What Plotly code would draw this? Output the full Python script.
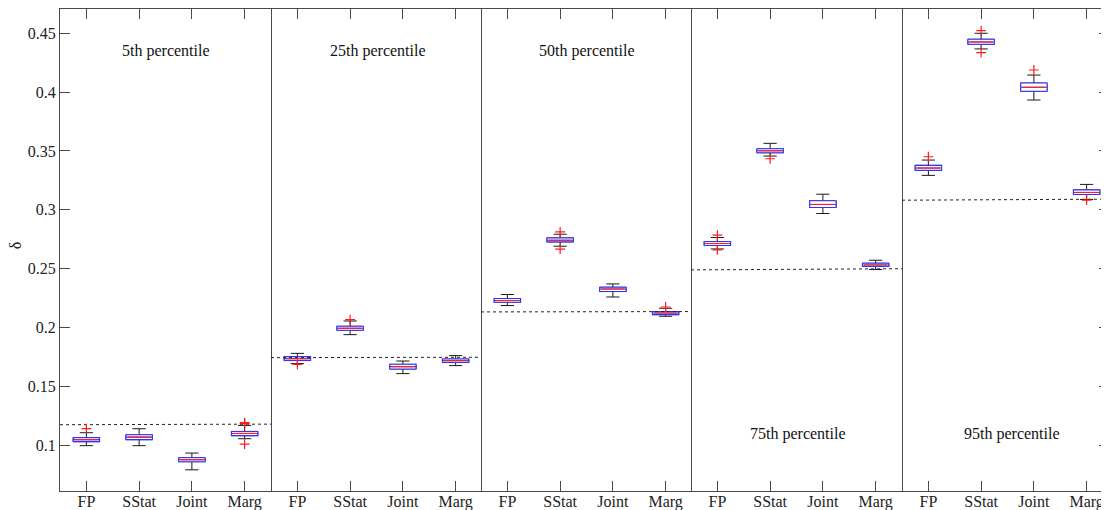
import plotly.graph_objects as go

categories = ["FP", "SStat", "Joint", "Marg"]
cat_pos = [1, 2, 3, 4]
panel_titles = ["5th percentile", "25th percentile", "50th percentile", "75th percentile", "95th percentile"]

# box statistics per panel (FP, SStat, Joint, Marg)
q1_vals = [
    [0.1031, 0.1048, 0.0861, 0.1082],
    [0.1720, 0.1977, 0.1648, 0.1704],
    [0.2215, 0.2728, 0.2306, 0.2110],
    [0.2697, 0.3485, 0.3020, 0.2519],
    [0.3335, 0.4406, 0.4007, 0.3131],
]
median_vals = [
    [0.1048, 0.1070, 0.0878, 0.1101],
    [0.1736, 0.1994, 0.1668, 0.1719],
    [0.2230, 0.2742, 0.2328, 0.2124],
    [0.2714, 0.3502, 0.3046, 0.2532],
    [0.3355, 0.4426, 0.4041, 0.3148],
]
q3_vals = [
    [0.1065, 0.1090, 0.0895, 0.1118],
    [0.1753, 0.2011, 0.1688, 0.1733],
    [0.2247, 0.2762, 0.2343, 0.2136],
    [0.2731, 0.3519, 0.3077, 0.2547],
    [0.3378, 0.4449, 0.4077, 0.3170],
]
lower_vals = [
    [0.0997, 0.0997, 0.0792, 0.1056],
    [0.1694, 0.1940, 0.1609, 0.1677],
    [0.2187, 0.2691, 0.2260, 0.2096],
    [0.2668, 0.3457, 0.2969, 0.2493],
    [0.3293, 0.4367, 0.3933, 0.3088],
]
upper_vals = [
    [0.1107, 0.1141, 0.0934, 0.1169],
    [0.1781, 0.2056, 0.1716, 0.1762],
    [0.2281, 0.2793, 0.2371, 0.2164],
    [0.2765, 0.3565, 0.3133, 0.2572],
    [0.3423, 0.4500, 0.4145, 0.3216],
]
# outliers: category position and value, per panel
outlier_cat = [
    [1, 4, 4, 4],
    [1, 2],
    [2, 2, 4],
    [1, 1, 2],
    [1, 2, 2, 3, 4],
]
outlier_val = [
    [0.1141, 0.1192, 0.1185, 0.1010],
    [0.1688, 0.2068],
    [0.2813, 0.2666, 0.2175],
    [0.2785, 0.2660, 0.3434],
    [0.3451, 0.4522, 0.4335, 0.4188, 0.3082],
]
# dotted reference line per panel (left end, right end)
ref_left = [0.1175, 0.1745, 0.2133, 0.2490, 0.3082]
ref_right = [0.1180, 0.1748, 0.2136, 0.2500, 0.3091]

y_ticks = [0.1, 0.15, 0.2, 0.25, 0.3, 0.35, 0.4, 0.45]
y_ticktext = ["0.1", "0.15", "0.2", "0.25", "0.3", "0.35", "0.4", "0.45"]

# layout-only placement of the panel captions (data coords)
title_x = [2.5, 2.53, 2.5, 2.53, 2.58]
title_y = [0.435, 0.435, 0.435, 0.110, 0.110]

# page body has an 8px margin: size the figure so the plot lands where the reference has it
OFF = 8
W, H = 1101, 502
L_M, R_M, T_M, B_M = 52, 0, 1, 19
panel_px = [60, 271, 481, 691, 902, 1109]  # window pixels
unit_px = 211 / 4.0
plot_w = W - L_M - R_M
domains = [((panel_px[i] - OFF - L_M) / plot_w, (panel_px[i + 1] - OFF - L_M) / plot_w) for i in range(5)]

BOX_W = 0.5
FONT = "Liberation Serif"
AX_COL = "#4a4a4a"
TXT_COL = "#222222"

fig = go.Figure()
for p in range(5):
    xa = "x" if p == 0 else f"x{p+1}"
    ya = "y" if p == 0 else f"y{p+1}"
    # reference dotted line
    fig.add_trace(go.Scatter(
        x=[0.5, 4.5], y=[ref_left[p], ref_right[p]], mode="lines",
        line=dict(color="#222222", width=1, dash="dot"),
        xaxis=xa, yaxis=ya, showlegend=False, hoverinfo="skip"))
    # whiskers + caps (black)
    fig.add_trace(go.Box(
        x=cat_pos, q1=q1_vals[p], median=median_vals[p], q3=q3_vals[p],
        lowerfence=lower_vals[p], upperfence=upper_vals[p],
        width=BOX_W, whiskerwidth=0.5, boxpoints=False,
        line=dict(color="#1a1a1a", width=1), fillcolor="white",
        xaxis=xa, yaxis=ya, showlegend=False, hoverinfo="skip"))
    # blue box outline
    fig.add_trace(go.Box(
        x=cat_pos, q1=q1_vals[p], median=median_vals[p], q3=q3_vals[p],
        lowerfence=q1_vals[p], upperfence=q3_vals[p],
        width=BOX_W, whiskerwidth=0, boxpoints=False,
        line=dict(color="rgb(50,50,255)", width=1.1), fillcolor="white",
        xaxis=xa, yaxis=ya, showlegend=False, hoverinfo="skip"))
    # red medians
    mx, my = [], []
    for c, m in zip(cat_pos, median_vals[p]):
        mx += [c - BOX_W / 2 + 0.03, c + BOX_W / 2 - 0.03, None]
        my += [m, m, None]
    fig.add_trace(go.Scatter(
        x=mx, y=my, mode="lines", line=dict(color="#ff2020", width=1.2),
        xaxis=xa, yaxis=ya, showlegend=False, hoverinfo="skip"))
    # outliers
    fig.add_trace(go.Scatter(
        x=outlier_cat[p], y=outlier_val[p], mode="markers",
        marker=dict(symbol="cross-thin", size=7, line=dict(color="#ff1a1a", width=1.2)),
        xaxis=xa, yaxis=ya, showlegend=False, hoverinfo="skip"))
    # panel caption
    fig.add_annotation(
        x=title_x[p], y=title_y[p], xref=xa, yref=ya, text=panel_titles[p], showarrow=False,
        font=dict(family=FONT, size=16, color="#111111"))

y_range = [0.0612, 0.4706]
layout = dict(
    width=W, height=H, margin=dict(l=L_M, r=R_M, t=T_M, b=B_M, autoexpand=False),
    plot_bgcolor="white", paper_bgcolor="white", showlegend=False,
    font=dict(family=FONT, size=16, color=TXT_COL),
)
for p in range(5):
    xk = "xaxis" if p == 0 else f"xaxis{p+1}"
    yk = "yaxis" if p == 0 else f"yaxis{p+1}"
    ya = "y" if p == 0 else f"y{p+1}"
    xa = "x" if p == 0 else f"x{p+1}"
    width_units = (panel_px[p + 1] - panel_px[p]) / unit_px
    layout[xk] = dict(
        domain=list(domains[p]), anchor=ya, range=[0.5, 0.5 + width_units],
        tickmode="array", tickvals=cat_pos, ticktext=categories,
        ticks="inside", ticklen=10, tickcolor=AX_COL, tickwidth=1,
        showline=True, linecolor=AX_COL, linewidth=1, mirror="ticks",
        showgrid=False, zeroline=False, automargin=False, ticklabelstandoff=-4,
        tickfont=dict(family=FONT, size=16, color=TXT_COL), fixedrange=True)
    ydict = dict(
        anchor=xa, range=y_range, showgrid=False, zeroline=False, automargin=False,
        tickmode="array", tickvals=y_ticks, ticktext=y_ticktext,
        tickfont=dict(family=FONT, size=16, color=TXT_COL), fixedrange=True)
    if p == 0:
        ydict.update(ticks="inside", ticklen=10, tickcolor=AX_COL, showticklabels=True,
                     showline=True, linecolor=AX_COL, linewidth=1, mirror=True)
    elif p < 4:
        # only the right border of each inner panel (left border comes from the previous panel)
        ydict.update(side="right", ticks="", showticklabels=False, matches="y",
                     showline=True, linecolor=AX_COL, linewidth=1, mirror=False)
    else:
        ydict.update(side="right", ticks="inside", ticklen=10, tickcolor=AX_COL,
                     showticklabels=False, showline=False, matches="y")
    layout[yk] = ydict

fig.update_layout(**layout)
fig.add_annotation(
    x=-45 / plot_w, y=0.51, xref="paper", yref="paper", xanchor="center", yanchor="middle",
    text="δ", textangle=-90, showarrow=False, font=dict(family=FONT, size=16, color=TXT_COL))

fig.write_html("out.html")
